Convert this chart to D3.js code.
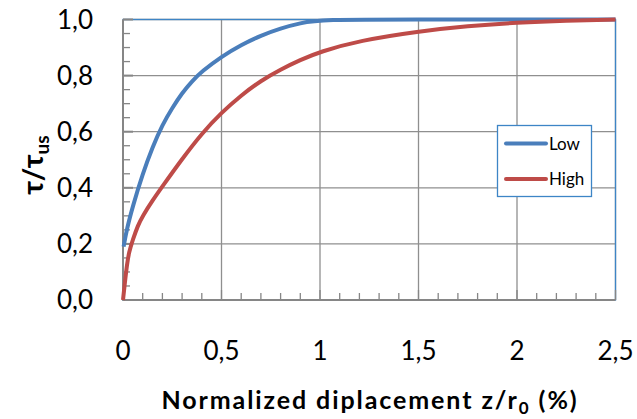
<!DOCTYPE html>
<html><head><meta charset="utf-8">
<script src="https://cdn.jsdelivr.net/npm/d3@7"></script>
<style>
html,body{margin:0;padding:0;background:#fff;}
svg{display:block;}
text{font-family:Lato, "Open Sans", sans-serif;fill:#000;}
</style></head>
<body>
<svg id="chart" width="637" height="419"></svg>
<script>
// ---- data ----
const seriesNames = ["Low", "High"];
const lowX  = [0.003, 0.02, 0.05, 0.1, 0.15, 0.2, 0.25, 0.3, 0.35, 0.4, 0.5, 0.6, 0.7, 0.8, 0.9, 1.0, 1.5, 2.0, 2.5];
const lowY  = [0.19, 0.255, 0.335, 0.45, 0.545, 0.625, 0.685, 0.738, 0.780, 0.815, 0.868, 0.91, 0.943, 0.969, 0.987, 1.0, 1.0, 1.0, 1.0];
const highX = [0, 0.01, 0.02, 0.03, 0.05, 0.075, 0.1, 0.15, 0.2, 0.3, 0.4, 0.5, 0.6, 0.7, 0.8, 0.9, 1.0, 1.2, 1.5, 1.75, 2.0, 2.25, 2.5];
const highY = [0, 0.065, 0.125, 0.17, 0.215, 0.265, 0.30, 0.355, 0.405, 0.503, 0.594, 0.668, 0.73, 0.782, 0.822, 0.856, 0.885, 0.925, 0.958, 0.977, 0.989, 0.996, 1.0];
const xTicks = [0, 0.5, 1, 1.5, 2, 2.5];
const yTicks = [0, 0.2, 0.4, 0.6, 0.8, 1.0];
const xTickLabels = ["0", "0,5", "1", "1,5", "2", "2,5"];
const yTickLabels = ["0,0", "0,2", "0,4", "0,6", "0,8", "1,0"];
const colors = ["#4a7ebb", "#be4b48"];

// ---- layout ----
const svg = d3.select("#chart");
const L = 123, R = 615.5, T = 19.5, B = 300;
const x = d3.scaleLinear().domain([0, 2.5]).range([L, R]);
const y = d3.scaleLinear().domain([0, 1]).range([B, T]);
const gridColor = "#8f8f8f";

// gridlines
const g = svg.append("g");
g.selectAll(".vg").data(xTicks.slice(1)).enter().append("line")
  .attr("x1", d => x(d)).attr("x2", d => x(d)).attr("y1", T).attr("y2", B)
  .attr("stroke", gridColor).attr("stroke-width", 1.3);
g.selectAll(".hg").data(yTicks.slice(1)).enter().append("line")
  .attr("x1", L).attr("x2", R).attr("y1", d => y(d)).attr("y2", d => y(d))
  .attr("stroke", gridColor).attr("stroke-width", 1.3);

// plot border (blue)
svg.append("rect").attr("x", L).attr("y", T).attr("width", R - L).attr("height", B - T)
  .attr("fill", "none").attr("stroke", "#3d85c6").attr("stroke-width", 1.3);

// axes with inward minor ticks
const axisColor = "#868686";
const yMinor = d3.range(0, 1.0001, 0.05);
const xMinor = d3.range(0, 2.5001, 0.1);
svg.selectAll(".ymt").data(yMinor).enter().append("line")
  .attr("x1", L).attr("x2", (d, i) => L + (i % 4 === 0 ? 10 : 7))
  .attr("y1", d => y(d)).attr("y2", d => y(d))
  .attr("stroke", axisColor).attr("stroke-width", (d, i) => i % 4 === 0 ? 2 : 1.3);
svg.selectAll(".xmt").data(xMinor).enter().append("line")
  .attr("x1", d => x(d)).attr("x2", d => x(d))
  .attr("y1", B).attr("y2", (d, i) => B - (i % 5 === 0 ? 10 : 7))
  .attr("stroke", axisColor).attr("stroke-width", 1.3);
svg.append("line").attr("x1", L).attr("x2", L).attr("y1", T).attr("y2", B + 0.5)
  .attr("stroke", axisColor).attr("stroke-width", 2);
svg.append("line").attr("x1", L - 0.5).attr("x2", R).attr("y1", B).attr("y2", B)
  .attr("stroke", axisColor).attr("stroke-width", 2);

// tick labels
svg.selectAll(".yl").data(yTicks).enter().append("text")
  .attr("x", 93).attr("y", d => y(d)).attr("dy", "0.36em")
  .attr("text-anchor", "end").attr("font-size", 26)
  .text((d, i) => yTickLabels[i]);
svg.selectAll(".xl").data(xTicks).enter().append("text")
  .attr("x", d => x(d)).attr("y", 360)
  .attr("text-anchor", "middle").attr("font-size", 26)
  .text((d, i) => xTickLabels[i]);

// curves
const line = d3.line().x(d => x(d[0])).y(d => y(d[1])).curve(d3.curveBasis);
const lowData = lowX.map((v, i) => [v, lowY[i]]);
const highData = highX.map((v, i) => [v, highY[i]]);
[lowData, highData].forEach((data, i) => {
  svg.append("path").datum(data).attr("d", line)
    .attr("fill", "none").attr("stroke", colors[i]).attr("stroke-width", 4)
    .attr("stroke-linejoin", "round");
});

// legend
const lg = svg.append("g");
lg.append("rect").attr("x", 497.5).attr("y", 125.5).attr("width", 94).attr("height", 71)
  .attr("fill", "#fff").attr("stroke", "#3d85c6").attr("stroke-width", 1.3);
const legY = [143.5, 179];
seriesNames.forEach((name, i) => {
  lg.append("line").attr("x1", 506).attr("x2", 546).attr("y1", legY[i]).attr("y2", legY[i])
    .attr("stroke", colors[i]).attr("stroke-width", 4).attr("stroke-linecap", "round");
  lg.append("text").attr("x", 549).attr("y", legY[i]).attr("dy", "0.36em")
    .attr("font-size", 17).text(name);
});

// x title
const xt = svg.append("text").attr("x", 370).attr("y", 409).attr("text-anchor", "middle")
  .attr("font-size", 25).attr("font-weight", "bold");
xt.append("tspan").text("Normalized diplacement z/r");
xt.append("tspan").attr("font-size", 17).attr("dy", 5).text("0");
xt.append("tspan").attr("dy", -5).text(" (%)");
// stretch spacing to the reference title width
const w0 = xt.node().getComputedTextLength();
const nChars = "Normalized diplacement z/r0 (%)".length;
xt.attr("letter-spacing", ((417 - w0) / nChars).toFixed(2));

// y title
const yt = svg.append("text").attr("transform", "translate(43,165) rotate(-90)")
  .attr("text-anchor", "middle").attr("font-size", 29).attr("font-weight", "bold");
yt.append("tspan").text("τ/τ");
yt.append("tspan").attr("font-size", 19).attr("dy", 6).text("us");
</script>
</body></html>
